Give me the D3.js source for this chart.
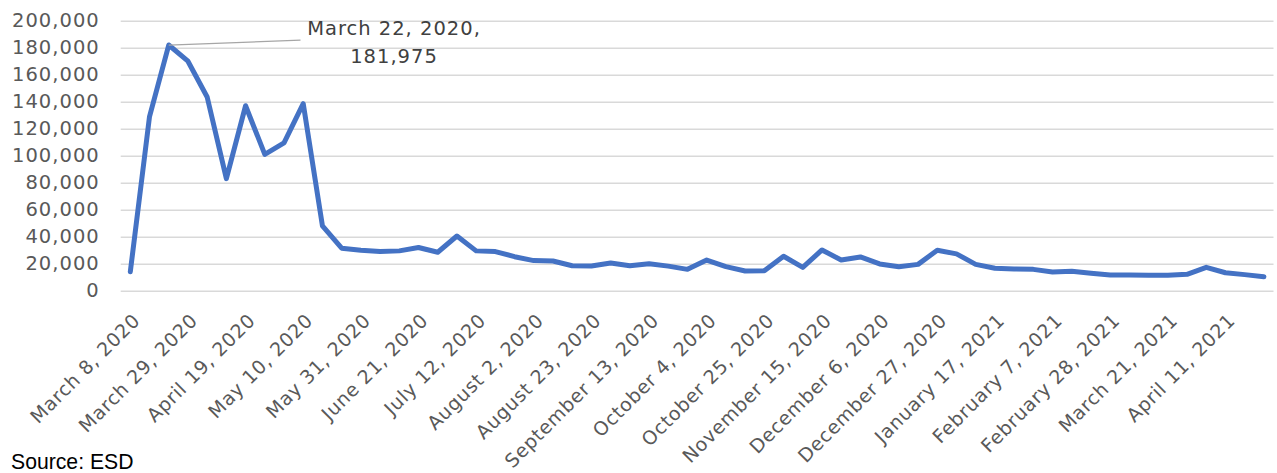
<!DOCTYPE html>
<html>
<head>
<meta charset="utf-8">
<script src="https://cdn.jsdelivr.net/npm/d3@7"></script>
<style>
  html, body { margin: 0; padding: 0; background: #ffffff; }
  svg { display: block; }
</style>
</head>
<body>
<svg id="chart" width="1277" height="473"></svg>
<script>
// Weekly initial claims, week ending dates
const weeks = [
  "March 8, 2020", "March 15, 2020", "March 22, 2020", "March 29, 2020",
  "April 5, 2020", "April 12, 2020", "April 19, 2020", "April 26, 2020",
  "May 3, 2020", "May 10, 2020", "May 17, 2020", "May 24, 2020",
  "May 31, 2020", "June 7, 2020", "June 14, 2020", "June 21, 2020",
  "June 28, 2020", "July 5, 2020", "July 12, 2020", "July 19, 2020",
  "July 26, 2020", "August 2, 2020", "August 9, 2020", "August 16, 2020",
  "August 23, 2020", "August 30, 2020", "September 6, 2020", "September 13, 2020",
  "September 20, 2020", "September 27, 2020", "October 4, 2020", "October 11, 2020",
  "October 18, 2020", "October 25, 2020", "November 1, 2020", "November 8, 2020",
  "November 15, 2020", "November 22, 2020", "November 29, 2020", "December 6, 2020",
  "December 13, 2020", "December 20, 2020", "December 27, 2020", "January 3, 2021",
  "January 10, 2021", "January 17, 2021", "January 24, 2021", "January 31, 2021",
  "February 7, 2021", "February 14, 2021", "February 21, 2021", "February 28, 2021",
  "March 7, 2021", "March 14, 2021", "March 21, 2021", "March 28, 2021",
  "April 4, 2021", "April 11, 2021", "April 18, 2021", "April 25, 2021"
];

const claims = [
  14000, 129000, 181975, 170000, 143500, 83000, 137000, 101000,
  109500, 138500, 48000, 31500, 30000, 29000, 29500, 32000,
  28500, 40500, 29500, 29000, 25200, 22300, 22000, 18500,
  18300, 20500, 18500, 20000, 18200, 15800, 22700, 17800,
  14600, 14800, 25500, 17300, 30200, 22700, 25000, 19800,
  17800, 19500, 30000, 27300, 19500, 16600, 16100, 15800,
  13900, 14400, 12900, 11700, 11600, 11400, 11400, 12100,
  17300, 13300, 11900, 10400
];

const yTicks = [0, 20000, 40000, 60000, 80000, 100000, 120000, 140000, 160000, 180000, 200000];

// every third week is labelled on the axis
const labelledWeeks = weeks.filter((d, i) => i % 3 === 0);

const peakWeek = "March 22, 2020";
const peakLines = ["March 22, 2020,", "181,975"];
const sourceText = "Source: ESD";

const svg = d3.select("#chart");

const plot = { left: 120.7, right: 1273.5, top: 20.7, bottom: 290.7 };

const x = d3.scaleBand().domain(weeks).range([plot.left, plot.right]).padding(0);
const y = d3.scaleLinear().domain([0, 200000]).range([plot.bottom, plot.top]);
const cx = d => x(d) + x.bandwidth() / 2;

const fmt = d3.format(",");
const labelFont = "'DejaVu Sans', Verdana, sans-serif";

// horizontal gridlines with value labels
const yAxis = d3.axisLeft(y).tickValues(yTicks).tickFormat(fmt)
  .tickSize(-(plot.right - plot.left)).tickPadding(21);
const gy = svg.append("g").attr("transform", `translate(${plot.left},0)`).call(yAxis);
gy.select(".domain").remove();
gy.selectAll(".tick line").attr("stroke", "#d9d9d9").attr("stroke-width", 1.5);
gy.selectAll(".tick text")
  .attr("fill", "#595959")
  .style("font-family", labelFont)
  .style("font-size", "19.5px")
  .style("letter-spacing", "1px");

// category axis labels, rotated
const xAxis = d3.axisBottom(x).tickValues(labelledWeeks).tickSize(0).tickPadding(0);
const gx = svg.append("g").attr("transform", `translate(0,${plot.bottom})`).call(xAxis);
gx.select(".domain").remove();
gx.selectAll(".tick text")
  .attr("fill", "#595959")
  .style("font-family", labelFont)
  .style("font-size", "19px")
  .style("letter-spacing", "0.7px")
  .attr("text-anchor", "end")
  .attr("y", 0)
  .attr("dy", 0)
  .attr("transform", "translate(1,21) rotate(-45) translate(0,14)");

// claims line
const line = d3.line().x((d, i) => cx(weeks[i])).y(d => y(d));
svg.append("path")
  .datum(claims)
  .attr("d", line)
  .attr("fill", "none")
  .attr("stroke", "#4472c4")
  .attr("stroke-width", 5)
  .attr("stroke-linejoin", "round")
  .attr("stroke-linecap", "round");

// peak annotation with leader line
const peakIdx = weeks.indexOf(peakWeek);
const px = cx(peakWeek), py = y(claims[peakIdx]);
svg.append("line")
  .attr("x1", px).attr("y1", py)
  .attr("x2", 300.5).attr("y2", y(185600))
  .attr("stroke", "#a6a6a6").attr("stroke-width", 1.3);

const ann = svg.append("text")
  .attr("fill", "#404040")
  .attr("text-anchor", "middle")
  .style("font-family", labelFont)
  .style("font-size", "19.5px")
  .style("letter-spacing", "1px");
peakLines.forEach((t, i) => {
  ann.append("tspan").attr("x", 394).attr("y", 35 + i * 27.5).text(t);
});

// source note
svg.append("text")
  .attr("x", 11).attr("y", 469)
  .attr("fill", "#000000")
  .style("font-family", "'Liberation Sans', Arial, sans-serif")
  .style("font-size", "21.2px")
  .text(sourceText);
</script>
</body>
</html>
